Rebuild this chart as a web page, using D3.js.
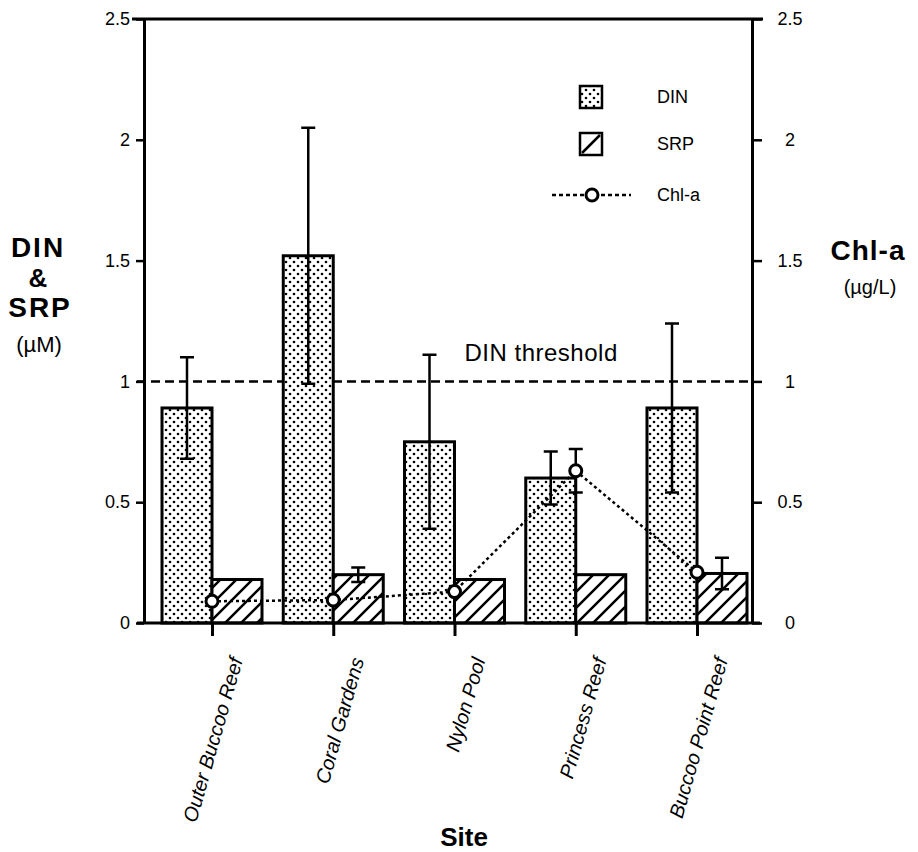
<!DOCTYPE html>
<html>
<head>
<meta charset="utf-8">
<script src="https://cdn.jsdelivr.net/npm/d3@7"></script>
<style>
  body { margin: 0; background: #fff; }
  text { font-family: "Liberation Sans", Arial, Helvetica, sans-serif; fill: #000; }
</style>
</head>
<body>
<div id="chart"></div>
<script>
// data
const sites = ['Outer Buccoo Reef', 'Coral Gardens', 'Nylon Pool', 'Princess Reef', 'Buccoo Point Reef'];
const din = [0.89, 1.52, 0.75, 0.60, 0.89];
const dinErr = [0.21, 0.53, 0.36, 0.11, 0.35];
const srp = [0.18, 0.20, 0.18, 0.20, 0.205];
const srpErr = [0, 0.03, 0, 0, 0.065];
const chla = [0.09, 0.095, 0.13, 0.63, 0.21];
const chlaErr = [0, 0, 0, 0.09, 0];
const yTicks = [0, 0.5, 1, 1.5, 2, 2.5];
const dinThreshold = 1;

const width = 918, height = 852;
const left = 144, right = 752;
const barW = 50;

const svg = d3.select('#chart').append('svg')
  .attr('width', width)
  .attr('height', height);

const defs = svg.append('defs');

// stipple for DIN
const dots = defs.append('pattern')
  .attr('id', 'dots')
  .attr('patternUnits', 'userSpaceOnUse')
  .attr('width', 8).attr('height', 8);
dots.append('rect').attr('width', 8).attr('height', 8).attr('fill', '#fff');
dots.append('circle').attr('cx', 2).attr('cy', 2).attr('r', 1.3).attr('fill', '#000');
dots.append('circle').attr('cx', 6).attr('cy', 6).attr('r', 1.3).attr('fill', '#000');

// hatch for SRP
const hatch = defs.append('pattern')
  .attr('id', 'hatch')
  .attr('patternUnits', 'userSpaceOnUse')
  .attr('width', 16).attr('height', 16);
hatch.append('rect').attr('width', 16).attr('height', 16).attr('fill', '#fff');
hatch.append('path')
  .attr('d', 'M0,16 L16,0 M-4,4 L4,-4 M12,20 L20,12')
  .attr('stroke', '#000').attr('stroke-width', 2.5);

const x = d3.scalePoint().domain(sites).range([212, 697]);
const y = d3.scaleLinear().domain([0, 2.5]).range([623, 19]);
const yR = d3.scaleLinear().domain([0, 2.5]).range([623, 19]);

const rows = sites.map((s, i) => ({
  site: s, din: din[i], dinErr: dinErr[i], srp: srp[i], srpErr: srpErr[i],
  chla: chla[i], chlaErr: chlaErr[i]
}));

// threshold line
svg.append('line')
  .attr('x1', left - 7).attr('x2', right)
  .attr('y1', y(dinThreshold)).attr('y2', y(dinThreshold))
  .attr('stroke', '#000').attr('stroke-width', 2.5)
  .attr('stroke-dasharray', '9,5');

svg.append('text')
  .attr('x', x('Nylon Pool') + 10)
  .attr('y', y(dinThreshold) - 20)
  .attr('font-size', 24)
  .attr('letter-spacing', 0.5)
  .text('DIN threshold');

// bars
const g = svg.append('g');
g.selectAll('.din').data(rows).enter().append('rect')
  .attr('x', d => x(d.site) - barW)
  .attr('y', d => y(d.din))
  .attr('width', barW)
  .attr('height', d => y(0) - y(d.din))
  .attr('fill', 'url(#dots)')
  .attr('stroke', '#000').attr('stroke-width', 3);

g.selectAll('.srp').data(rows).enter().append('rect')
  .attr('x', d => x(d.site))
  .attr('y', d => y(d.srp))
  .attr('width', barW)
  .attr('height', d => y(0) - y(d.srp))
  .attr('fill', 'url(#hatch)')
  .attr('stroke', '#000').attr('stroke-width', 3);

// error bars
function errBar(cx, v, e, scale) {
  if (!e) return;
  const top = scale(v + e), bot = scale(v - e);
  svg.append('path')
    .attr('d', `M${cx},${top}V${bot}M${cx - 7},${top}H${cx + 7}M${cx - 7},${bot}H${cx + 7}`)
    .attr('stroke', '#000').attr('stroke-width', 2.5).attr('fill', 'none');
}
rows.forEach(d => {
  errBar(x(d.site) - barW / 2, d.din, d.dinErr, y);
  errBar(x(d.site) + barW / 2, d.srp, d.srpErr, y);
  errBar(x(d.site), d.chla, d.chlaErr, yR);
});

// Chl-a line
const line = d3.line().x(d => x(d.site)).y(d => yR(d.chla));
svg.append('path')
  .datum(rows)
  .attr('d', line)
  .attr('fill', 'none')
  .attr('stroke', '#000').attr('stroke-width', 2.5)
  .attr('stroke-dasharray', '3,3');

svg.selectAll('.pt').data(rows).enter().append('circle')
  .attr('cx', d => x(d.site))
  .attr('cy', d => yR(d.chla))
  .attr('r', 6)
  .attr('fill', '#fff')
  .attr('stroke', '#000').attr('stroke-width', 3);

// frame
svg.append('line')
  .attr('x1', left - 12).attr('x2', right + 11)
  .attr('y1', y(2.5)).attr('y2', y(2.5))
  .attr('stroke', '#000').attr('stroke-width', 3);
svg.append('line')
  .attr('x1', left - 7).attr('x2', right + 8)
  .attr('y1', y(0)).attr('y2', y(0))
  .attr('stroke', '#000').attr('stroke-width', 3);

// axes
const yAxis = svg.append('g')
  .attr('transform', `translate(${left},0)`)
  .call(d3.axisLeft(y).tickValues(yTicks).tickFormat(d => String(d)).tickSize(8).tickSizeOuter(0).tickPadding(6));
const yAxisR = svg.append('g')
  .attr('transform', `translate(${right},0)`)
  .call(d3.axisRight(yR).tickValues(yTicks).tickFormat(d => String(d)).tickSize(10).tickSizeOuter(0));

[yAxis, yAxisR].forEach(a => {
  a.select('.domain').attr('stroke-width', 3);
  a.selectAll('.tick line').attr('stroke-width', 2.5);
  a.selectAll('.tick text').attr('font-size', 18).attr('font-family', null);
});
yAxisR.selectAll('.tick text').attr('text-anchor', 'middle').attr('x', 38);

// x ticks and labels
const xAxis = svg.append('g')
  .attr('transform', `translate(0,${y(0)})`)
  .call(d3.axisBottom(x).tickSize(13).tickFormat(''));
xAxis.select('.domain').remove();
xAxis.selectAll('.tick line').attr('stroke-width', 3);

svg.selectAll('.xlab').data(sites).enter().append('text')
  .attr('transform', d => `translate(${x(d) + 31},${y(0) + 37}) rotate(-74)`)
  .attr('text-anchor', 'end')
  .attr('font-size', 20)
  .attr('font-style', 'italic')
  .text(d => d);

// axis titles
svg.append('text')
  .attr('x', 464).attr('y', 846)
  .attr('text-anchor', 'middle')
  .attr('font-size', 26).attr('font-weight', 'bold')
  .text('Site');

const lt = svg.append('g').attr('text-anchor', 'middle');
lt.append('text').attr('x', 38).attr('y', 257).attr('font-size', 28).attr('font-weight', 'bold').attr('letter-spacing', 2).text('DIN');
lt.append('text').attr('x', 38).attr('y', 287).attr('font-size', 26).attr('font-weight', 'bold').text('&');
lt.append('text').attr('x', 40).attr('y', 317).attr('font-size', 28).attr('font-weight', 'bold').attr('letter-spacing', 2).text('SRP');
lt.append('text').attr('x', 39).attr('y', 352).attr('font-size', 22).text('(\u00b5M)');

const rt = svg.append('g').attr('text-anchor', 'middle');
rt.append('text').attr('x', 868).attr('y', 260).attr('font-size', 28).attr('font-weight', 'bold').attr('letter-spacing', 1).text('Chl-a');
rt.append('text').attr('x', 870).attr('y', 294).attr('font-size', 20).text('(\u00b5g/L)');

// legend
const legend = svg.append('g');
legend.append('rect').attr('x', 580).attr('y', 86).attr('width', 22).attr('height', 22)
  .attr('fill', 'url(#dots)').attr('stroke', '#000').attr('stroke-width', 2.5);
legend.append('rect').attr('x', 580).attr('y', 133).attr('width', 22).attr('height', 22)
  .attr('fill', '#fff').attr('stroke', '#000').attr('stroke-width', 2.5);
legend.append('line').attr('x1', 582).attr('y1', 153).attr('x2', 600).attr('y2', 135)
  .attr('stroke', '#000').attr('stroke-width', 2.5);
legend.append('line').attr('x1', 552).attr('x2', 631).attr('y1', 195).attr('y2', 195)
  .attr('stroke', '#000').attr('stroke-width', 2.5).attr('stroke-dasharray', '4,3');
legend.append('circle').attr('cx', 592).attr('cy', 195).attr('r', 6)
  .attr('fill', '#fff').attr('stroke', '#000').attr('stroke-width', 3);
[['DIN', 97], ['SRP', 144], ['Chl-a', 195]].forEach(([t, ly]) => {
  legend.append('text').attr('x', 657).attr('y', ly).attr('dy', '0.35em')
    .attr('font-size', 18).text(t);
});
</script>
</body>
</html>
